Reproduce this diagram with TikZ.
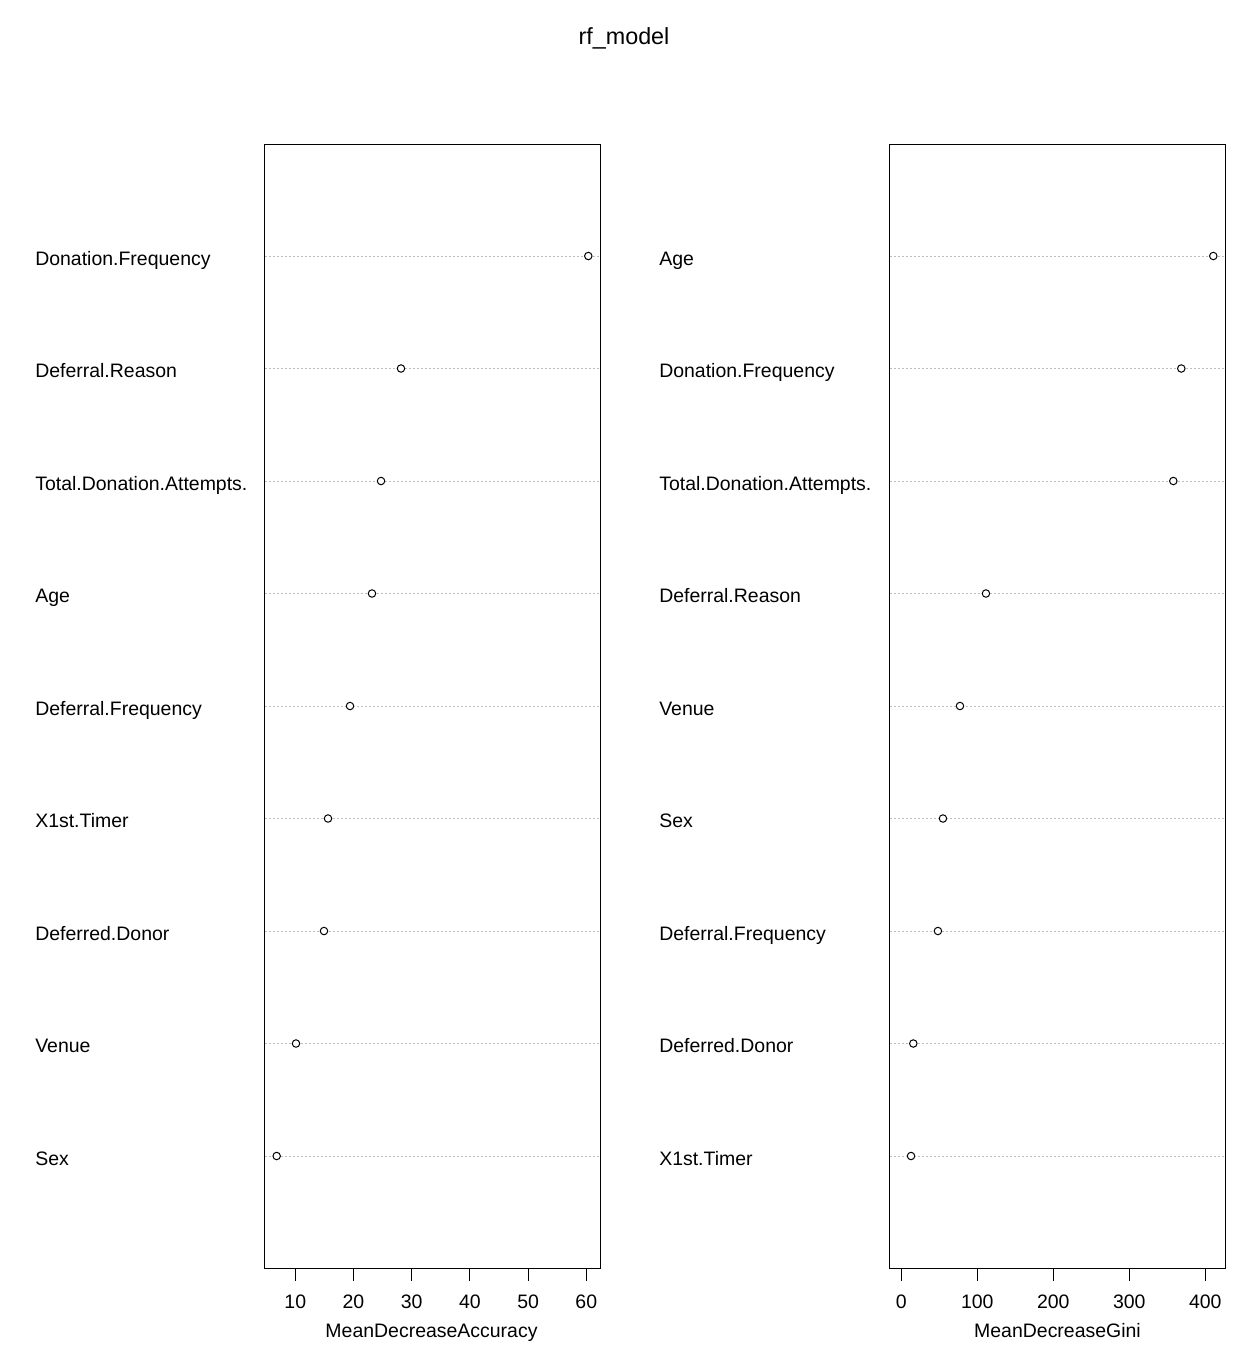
\documentclass[tikz,border=0pt]{standalone}
\usepackage{fontspec}
\setmainfont{Liberation Sans}
\begin{document}
\begin{tikzpicture}[x=0.75pt,y=-0.75pt,
  txt/.style={inner sep=0pt,font=\fontsize{14.6}{17}\selectfont},
  lab/.style={txt,anchor=base west},
  ticklab/.style={txt,anchor=base},
  titlelab/.style={inner sep=0pt,anchor=base,font=\fontsize{17.5}{21}\selectfont},
  dot/.style={circle,draw=black,line width=0.75pt,minimum size=5.6pt,inner sep=0pt,fill=white},
  guide/.style={draw=black!26,line width=0.75pt,dash pattern=on 1.5pt off 1.5pt},
  frame/.style={draw=black,line width=0.8pt},
  axtick/.style={draw=black,line width=0.8pt}
]
\useasboundingbox[fill=white] (0,0) rectangle (1250,1365);

% title
\node[titlelab] (title) at (624,44) {rf\_model};

% ---------- left panel ----------
\foreach \name/\v [count=\i] in {Donation.Frequency/60.34,Deferral.Reason/28.16,Total.Donation.Attempts./24.73,Age/23.18,Deferral.Frequency/19.40,X1st.Timer/15.62,Deferred.Donor/14.93,Venue/10.12,Sex/6.80}{
  \pgfmathsetmacro\yy{256+(\i-1)*112.5}
  \pgfmathsetmacro\xx{295.3+(\v-10)*5.82}
  \node[lab] (la\i) at (35,\yy+9) {\name};
  \coordinate (gla\i) at (264.5,\yy);
  \coordinate (gra\i) at (600.5,\yy);
  \draw[guide] (gla\i) -- (gra\i);
  \node[dot] (pa\i) at (\xx,\yy) {};
}
\draw[frame] (264.5,144.5) rectangle (600.5,1268.5);
\foreach \t in {10,20,30,40,50,60}{
  \pgfmathsetmacro\tx{295.3+(\t-10)*5.82}
  \coordinate (ta\t) at (\tx,1268.5);
  \coordinate (tb\t) at (\tx,1280.5);
  \draw[axtick] (ta\t) -- (tb\t);
  \node[ticklab] (tla\t) at (\tx,1308) {\t};
}
\node[ticklab] (xla) at (431.5,1337) {MeanDecreaseAccuracy};

% ---------- right panel ----------
\foreach \name/\v [count=\i] in {Age/410.5,Donation.Frequency/368.4,Total.Donation.Attempts./357.9,Deferral.Reason/111.4,Venue/77.2,Sex/54.8,Deferral.Frequency/48.2,Deferred.Donor/15.8,X1st.Timer/12.8}{
  \pgfmathsetmacro\yy{256+(\i-1)*112.5}
  \pgfmathsetmacro\xx{901.3+\v*0.76}
  \node[lab] (lb\i) at (659,\yy+9) {\name};
  \coordinate (glb\i) at (889.5,\yy);
  \coordinate (grb\i) at (1225.5,\yy);
  \draw[guide] (glb\i) -- (grb\i);
  \node[dot] (pb\i) at (\xx,\yy) {};
}
\draw[frame] (889.5,144.5) rectangle (1225.5,1268.5);
\foreach \t in {0,100,200,300,400}{
  \pgfmathsetmacro\tx{901.3+\t*0.76}
  \coordinate (tc\t) at (\tx,1268.5);
  \coordinate (td\t) at (\tx,1280.5);
  \draw[axtick] (tc\t) -- (td\t);
  \node[ticklab] (tlb\t) at (\tx,1308) {\t};
}
\node[ticklab] (xlb) at (1057.5,1337) {MeanDecreaseGini};
\end{tikzpicture}
\end{document}
